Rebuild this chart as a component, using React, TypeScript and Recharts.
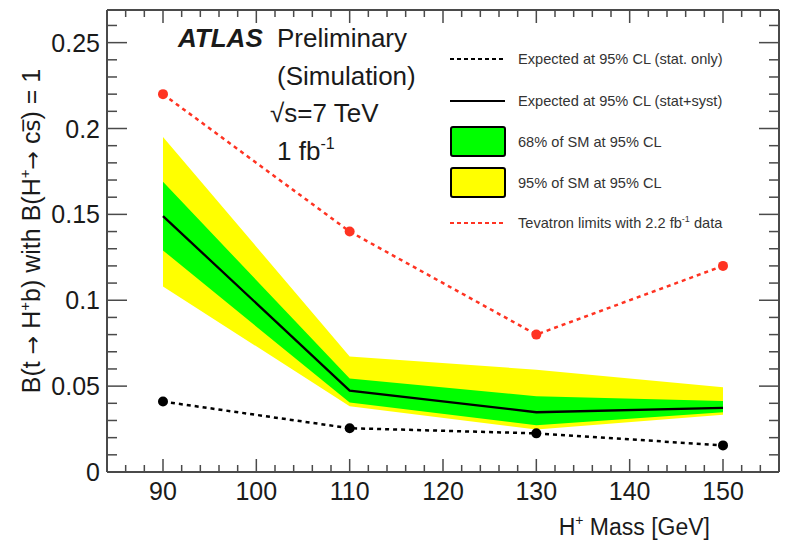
import React from "react";
import { ComposedChart, Area, Line, XAxis, YAxis, Legend } from "recharts";

// ---- data ----
const mass = [90, 110, 130, 150];
const expStatOnly = [0.041, 0.0255, 0.0225, 0.0155];
const expStatSyst = [0.149, 0.0474, 0.0348, 0.0373];
const band68Low = [0.129, 0.0404, 0.0272, 0.0348];
const band68High = [0.169, 0.0544, 0.0441, 0.0414];
const band95Low = [0.108, 0.0383, 0.0247, 0.0334];
const band95High = [0.195, 0.0673, 0.0596, 0.0493];
const tevatron = [0.22, 0.14, 0.08, 0.12];

const xMajorTicks = [90, 100, 110, 120, 130, 140, 150];
const xAllTicks = [86, 88, 90, 92, 94, 96, 98, 100, 102, 104, 106, 108, 110, 112, 114, 116, 118, 120, 122, 124, 126, 128, 130, 132, 134, 136, 138, 140, 142, 144, 146, 148, 150, 152, 154];
const yMajorTicks = [0, 0.05, 0.1, 0.15, 0.2, 0.25];
const yAllTicks = [0, 0.01, 0.02, 0.03, 0.04, 0.05, 0.06, 0.07, 0.08, 0.09, 0.1, 0.11, 0.12, 0.13, 0.14, 0.15, 0.16, 0.17, 0.18, 0.19, 0.2, 0.21, 0.22, 0.23, 0.24, 0.25, 0.26];

const legendLabels = [
  "Expected at 95% CL (stat. only)",
  "Expected at 95% CL (stat+syst)",
  "68% of SM at 95% CL",
  "95% of SM at 95% CL",
  "Tevatron limits with 2.2 fb",
];

const rows = mass.map((m, i) => ({
  mass: m,
  band95: [band95Low[i], band95High[i]],
  band68: [band68Low[i], band68High[i]],
  exp: expStatSyst[i],
  stat: expStatOnly[i],
  tev: tevatron[i],
}));

const FONT = "'Liberation Sans', Arial, Helvetica, sans-serif";
const SYM = "'DejaVu Sans', sans-serif";
const FRAME = "#4a4a4a";
const TEXT = "#1a1a1a";
const RED = "#ff3322";
const YELLOW = "#ffff00";
const GREEN = "#00ff00";

const isMajorX = (v: number) => xMajorTicks.indexOf(v) >= 0;
const isMajorY = (v: number) => yMajorTicks.some((t) => Math.abs(t - v) < 1e-9);

const BottomTick = (p: any) => {
  const { x, y, payload } = p;
  const major = isMajorX(payload.value);
  return (
    <g>
      <line x1={x} x2={x} y1={y} y2={y - (major ? 13 : 7)} stroke={FRAME} strokeWidth={1.5} />
      {major && (
        <text x={x} y={y + 28} textAnchor="middle" fontSize={25} fontFamily={FONT} fill={TEXT}>
          {payload.value}
        </text>
      )}
    </g>
  );
};

const TopTick = (p: any) => {
  const { x, y, payload } = p;
  const major = isMajorX(payload.value);
  return <line x1={x} x2={x} y1={y} y2={y + (major ? 13 : 7)} stroke={FRAME} strokeWidth={1.5} />;
};

const LeftTick = (p: any) => {
  const { x, y, payload } = p;
  const major = isMajorY(payload.value);
  return (
    <g>
      <line x1={x} x2={x + (major ? 20 : 10)} y1={y} y2={y} stroke={FRAME} strokeWidth={1.5} />
      {major && (
        <text x={x - 7} y={y + 9} textAnchor="end" fontSize={25} fontFamily={FONT} fill={TEXT}>
          {String(payload.value)}
        </text>
      )}
    </g>
  );
};

const RightTick = (p: any) => {
  const { x, y, payload } = p;
  const major = isMajorY(payload.value);
  return <line x1={x} x2={x - (major ? 20 : 10)} y1={y} y2={y} stroke={FRAME} strokeWidth={1.5} />;
};

const XTitle = (p: any) => {
  const vb = p.viewBox;
  return (
    <text x={vb.x + vb.width - 69} y={vb.y + 63} textAnchor="end" fontSize={23} fontFamily={FONT} fill={TEXT}>
      H
      <tspan fontSize={14} dy={-10}>+</tspan>
      <tspan dy={10}> Mass [GeV]</tspan>
    </text>
  );
};

const YTitle = (p: any) => {
  const vb = p.viewBox;
  const cx = vb.x + 40;
  const cy = vb.y + vb.height / 2 - 10;
  return (
    <text
      x={cx}
      y={cy}
      textAnchor="middle"
      fontSize={25}
      fontFamily={FONT}
      fill={TEXT}
      transform={`rotate(-90, ${cx}, ${cy})`}
    >
      B(t
      <tspan fontFamily={SYM} fontSize={22}> → </tspan>
      <tspan>H</tspan>
      <tspan fontSize={15} dy={-10}>+</tspan>
      <tspan dy={10}>b) with B(H</tspan>
      <tspan fontSize={15} dy={-10}>+</tspan>
      <tspan dy={10} fontFamily={SYM} fontSize={22}>→ </tspan>
      <tspan>c</tspan>
      <tspan fontFamily={SYM} fontSize={23}>{"s\u0305"}</tspan>
      <tspan>) = 1</tspan>
    </text>
  );
};

const LegendContent = () => {
  const tx = 78;
  const ys = [29, 71, 112, 153, 193];
  return (
    <svg width={340} height={210} style={{ display: "block", overflow: "visible" }}>
      <line x1={10} x2={65} y1={ys[0]} y2={ys[0]} stroke="#000" strokeWidth={2} strokeDasharray="4 3" />
      <line x1={10} x2={65} y1={ys[1]} y2={ys[1]} stroke="#000" strokeWidth={2} />
      <rect x={11} y={ys[2] - 15} width={54} height={29} rx={2} fill={GREEN} stroke="#000" strokeWidth={2} />
      <rect x={11} y={ys[3] - 15} width={54} height={29} rx={2} fill={YELLOW} stroke="#000" strokeWidth={2} />
      <line x1={10} x2={65} y1={ys[4]} y2={ys[4]} stroke={RED} strokeWidth={2} strokeDasharray="4 3" />
      {legendLabels.map((lab, i) => (
        <text key={i} x={tx} y={ys[i] + 5} fontSize={14.6} fontFamily={FONT} fill="#333">
          {lab}
          {i === 4 && (
            <>
              <tspan fontSize={9} dy={-6}>-1</tspan>
              <tspan dy={6}> data</tspan>
            </>
          )}
        </text>
      ))}
    </svg>
  );
};

export default function App() {
  return (
    <div style={{ position: "absolute", left: 0, top: 0, width: 787, height: 540, background: "#fff" }}>
      <ComposedChart width={787} height={540} data={rows} margin={{ top: 9, right: 7, bottom: 0, left: 0 }}>
        <XAxis
          xAxisId="b"
          type="number"
          dataKey="mass"
          domain={[84, 156]}
          allowDataOverflow
          ticks={xAllTicks}
          interval={0}
          tick={(p: any) => <BottomTick {...p} />}
          tickLine={false}
          tickSize={0}
          tickMargin={0}
          axisLine={{ stroke: FRAME, strokeWidth: 2 }}
          height={68}
          label={{ content: (p: any) => <XTitle {...p} /> }}
        />
        <XAxis
          xAxisId="t"
          orientation="top"
          type="number"
          dataKey="mass"
          domain={[84, 156]}
          allowDataOverflow
          ticks={xAllTicks}
          interval={0}
          tick={(p: any) => <TopTick {...p} />}
          tickLine={false}
          tickSize={0}
          tickMargin={0}
          axisLine={{ stroke: FRAME, strokeWidth: 2 }}
          height={1}
        />
        <YAxis
          yAxisId="l"
          type="number"
          domain={[0, 0.269]}
          allowDataOverflow
          ticks={yAllTicks}
          interval={0}
          tick={(p: any) => <LeftTick {...p} />}
          tickLine={false}
          tickSize={0}
          tickMargin={0}
          axisLine={{ stroke: FRAME, strokeWidth: 2 }}
          width={107}
          label={{ content: (p: any) => <YTitle {...p} /> }}
        />
        <YAxis
          yAxisId="r"
          orientation="right"
          type="number"
          domain={[0, 0.269]}
          allowDataOverflow
          ticks={yAllTicks}
          interval={0}
          tick={(p: any) => <RightTick {...p} />}
          tickLine={false}
          tickSize={0}
          tickMargin={0}
          axisLine={{ stroke: FRAME, strokeWidth: 2 }}
          width={1}
        />
        <Area xAxisId="b" yAxisId="l" dataKey="band95" stroke="none" fill={YELLOW} fillOpacity={1} isAnimationActive={false} activeDot={false} />
        <Area xAxisId="b" yAxisId="l" dataKey="band68" stroke="none" fill={GREEN} fillOpacity={1} isAnimationActive={false} activeDot={false} />
        <Line xAxisId="b" yAxisId="l" dataKey="exp" stroke="#000" strokeWidth={2.3} dot={false} isAnimationActive={false} activeDot={false} />
        <Line xAxisId="b" yAxisId="l" dataKey="stat" stroke="#000" strokeWidth={2.5} strokeDasharray="4 4" dot={{ r: 5, fill: "#000", stroke: "none" }} isAnimationActive={false} activeDot={false} />
        <Line xAxisId="b" yAxisId="l" dataKey="tev" stroke={RED} strokeWidth={2.5} strokeDasharray="4 4" dot={{ r: 5, fill: RED, stroke: "none" }} isAnimationActive={false} activeDot={false} />
        <Legend
          layout="vertical"
          align="center"
          verticalAlign="middle"
          content={() => <LegendContent />}
          wrapperStyle={{ left: 440, top: 30, width: 340, height: 210 }}
        />
      </ComposedChart>
      <svg width={787} height={540} style={{ position: "absolute", left: 0, top: 0, pointerEvents: "none" }}>
        <g fontFamily={FONT} fontSize={26} fill={TEXT}>
          <text x={178} y={47} fontWeight="bold" fontStyle="italic">ATLAS</text>
          <text x={277} y={47}>Preliminary</text>
          <text x={277} y={85}>(Simulation)</text>
          <text x={270} y={122}>√s=7 TeV</text>
          <text x={277} y={160}>
            1 fb<tspan fontSize={16} dy={-11}>-1</tspan>
          </text>
        </g>
      </svg>
    </div>
  );
}
